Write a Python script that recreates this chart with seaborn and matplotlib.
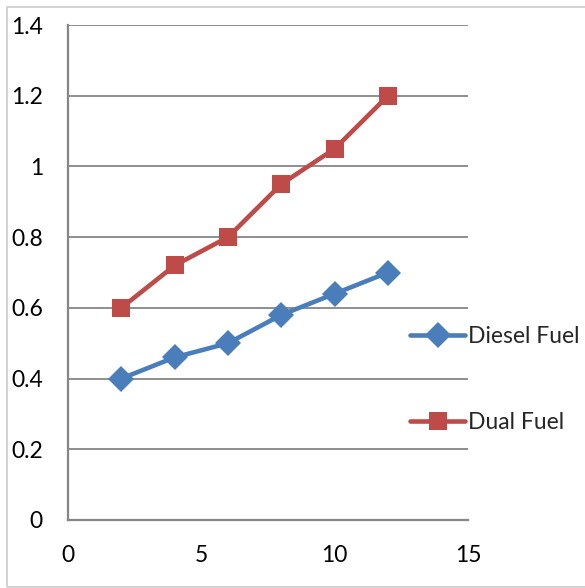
import matplotlib
matplotlib.use("Agg")
import matplotlib.pyplot as plt
import seaborn as sns
import pandas as pd
from matplotlib.patches import Rectangle

x_values = [2, 4, 6, 8, 10, 12]
diesel_fuel = [0.40, 0.46, 0.50, 0.58, 0.64, 0.70]
dual_fuel = [0.60, 0.72, 0.80, 0.95, 1.05, 1.20]
series_names = ["Diesel Fuel", "Dual Fuel"]
x_ticks = [0, 5, 10, 15]
y_ticks = [0, 0.2, 0.4, 0.6, 0.8, 1.0, 1.2, 1.4]
y_tick_labels = ["0", "0.2", "0.4", "0.6", "0.8", "1", "1.2", "1.4"]

df = pd.DataFrame({
    "x": x_values * 2,
    "y": diesel_fuel + dual_fuel,
    "series": [series_names[0]] * len(x_values) + [series_names[1]] * len(x_values),
})

sns.set_style("white")
plt.rcParams["font.family"] = ["Lato", "DejaVu Sans"]

fig = plt.figure(figsize=(5.85, 5.88), dpi=100)
ax = fig.add_axes([68 / 585, (588 - 520) / 588, 400 / 585, 495 / 588])

palette = {"Diesel Fuel": "#4A7EBB", "Dual Fuel": "#BE4B48"}
markers = {"Diesel Fuel": "D", "Dual Fuel": "s"}
sns.lineplot(data=df, x="x", y="y", hue="series", style="series",
             palette=palette, markers=markers, dashes=False,
             linewidth=3.3, markersize=13.5, markeredgewidth=0, ax=ax, zorder=3)
for line in ax.get_lines():
    if line.get_marker() == "D":
        line.set_markersize(13)

gray = "#868686"
ax.set_xlim(0, 15)
ax.set_ylim(0, 1.4)
ax.set_xticks(x_ticks)
ax.set_xticklabels([str(t) for t in x_ticks])
ax.set_yticks(y_ticks)
ax.set_yticklabels(y_tick_labels)
ax.set_xlabel("")
ax.set_ylabel("")
ax.yaxis.grid(True, color=gray, linewidth=1.3)
ax.xaxis.grid(False)
for s in ["top", "right"]:
    ax.spines[s].set_visible(False)
for s in ["left", "bottom"]:
    ax.spines[s].set_color(gray)
    ax.spines[s].set_linewidth(1.6)
ax.tick_params(axis="both", which="major", direction="out", length=6, width=1.3,
               color=gray, labelsize=16.5, labelcolor="black")
ax.tick_params(axis="y", pad=12)
ax.tick_params(axis="x", pad=12)
ax.set_axisbelow(True)

leg = ax.legend(loc="center left", bbox_to_anchor=(0.855, 0.284), frameon=False,
                fontsize=16.5, handlelength=2.4, handletextpad=0.13,
                labelspacing=2.85, borderpad=0, borderaxespad=0)
for h in leg.legend_handles:
    h.set_linewidth(3.3)

fig.patches.append(Rectangle((7 / 585, 1 / 588), 580 / 585, 580 / 588,
                             transform=fig.transFigure, fill=False,
                             edgecolor="#cfcfcf", linewidth=1.3))

fig.savefig("out.png", dpi=100)
